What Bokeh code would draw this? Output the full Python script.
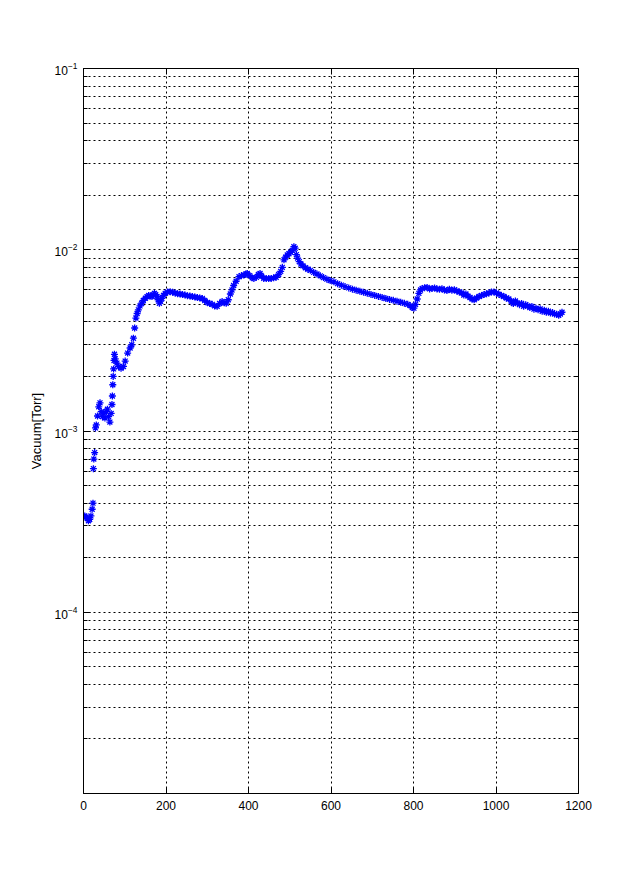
from bokeh.plotting import figure
from bokeh.models import (Range1d, FixedTicker, LogAxis, LinearAxis,
                          CustomJSTickFormatter, ColumnDataSource)
from bokeh.embed import file_html
from bokeh.resources import INLINE

# ---- data ----
time = [3, 6, 9, 12, 15, 18, 21, 23, 24, 25, 27, 29, 31, 34, 37, 40, 43, 46, 49, 52,
        55, 58, 61, 64, 67, 69, 70, 71, 72, 73, 74, 75, 77, 81, 85, 91, 97, 101, 107, 113,
        117, 121, 124, 127, 130, 133, 137, 141, 145, 150, 154, 158, 162, 166, 169, 172, 175, 178, 181, 184,
        187, 190, 194, 198, 204, 210, 216, 222, 228, 234, 240, 246, 252, 258, 264, 270, 276, 282, 288, 294,
        300, 306, 312, 318, 324, 330, 336, 341, 346, 351, 356, 360, 364, 370, 377, 383, 389, 394, 397, 403,
        409, 413, 419, 424, 428, 432, 437, 443, 449, 455, 461, 467, 473, 478, 482, 486, 490, 494, 498, 502,
        506, 510, 513, 516, 519, 523, 527, 532, 538, 544, 550, 558, 566, 574, 582, 590, 598, 607, 616, 625,
        634, 643, 652, 661, 670, 679, 688, 697, 706, 715, 724, 733, 742, 751, 760, 769, 778, 786, 792, 797,
        801, 805, 809, 813, 817, 821, 827, 833, 839, 845, 851, 857, 863, 869, 875, 881, 887, 893, 899, 905,
        911, 917, 922, 927, 932, 937, 942, 947, 953, 959, 965, 971, 977, 983, 989, 995, 1001, 1007, 1013, 1019,
        1025, 1031, 1037, 1042, 1047, 1052, 1057, 1062, 1067, 1072, 1077, 1082, 1087, 1092, 1097, 1102, 1107, 1112, 1117, 1122,
        1127, 1132, 1137, 1142, 1147, 1152, 1156, 1160]

vacuum = [3.4e-4, 3.35e-4, 3.3e-4, 3.2e-4, 3.25e-4, 3.4e-4, 3.7e-4, 4.0e-4, 6.2e-4, 7.0e-4,
          7.6e-4, 1.04e-3, 1.08e-3, 1.21e-3, 1.36e-3, 1.43e-3, 1.28e-3, 1.2e-3, 1.25e-3, 1.18e-3,
          1.28e-3, 1.32e-3, 1.2e-3, 1.12e-3, 1.25e-3, 1.4e-3, 1.56e-3, 1.8e-3, 2.0e-3, 2.2e-3,
          2.45e-3, 2.65e-3, 2.5e-3, 2.37e-3, 2.27e-3, 2.22e-3, 2.27e-3, 2.43e-3, 2.69e-3, 2.87e-3,
          2.99e-3, 3.25e-3, 3.7e-3, 4.2e-3, 4.45e-3, 4.66e-3, 4.9e-3, 5.07e-3, 5.25e-3, 5.4e-3,
          5.5e-3, 5.6e-3, 5.55e-3, 5.52e-3, 5.65e-3, 5.75e-3, 5.65e-3, 5.52e-3, 5.3e-3, 5.07e-3,
          5.2e-3, 5.4e-3, 5.6e-3, 5.75e-3, 5.85e-3, 5.87e-3, 5.82e-3, 5.77e-3, 5.72e-3, 5.7e-3,
          5.66e-3, 5.62e-3, 5.58e-3, 5.55e-3, 5.52e-3, 5.48e-3, 5.45e-3, 5.42e-3, 5.38e-3, 5.25e-3,
          5.12e-3, 5.05e-3, 5.0e-3, 4.9e-3, 4.88e-3, 5.05e-3, 5.18e-3, 5.1e-3, 5.07e-3, 5.3e-3,
          5.7e-3, 6.0e-3, 6.35e-3, 6.7e-3, 7.1e-3, 7.2e-3, 7.26e-3, 7.35e-3, 7.4e-3, 7.2e-3,
          7.0e-3, 6.95e-3, 7.05e-3, 7.3e-3, 7.4e-3, 7.15e-3, 6.95e-3, 6.95e-3, 6.93e-3, 6.95e-3,
          7.0e-3, 7.05e-3, 7.3e-3, 7.6e-3, 8.0e-3, 8.8e-3, 9.1e-3, 9.35e-3, 9.5e-3, 9.7e-3,
          9.9e-3, 1.04e-2, 1.02e-2, 9.4e-3, 9.0e-3, 8.6e-3, 8.35e-3, 8.15e-3, 7.95e-3, 7.8e-3,
          7.7e-3, 7.5e-3, 7.35e-3, 7.18e-3, 7.02e-3, 6.88e-3, 6.76e-3, 6.65e-3, 6.5e-3, 6.38e-3,
          6.26e-3, 6.16e-3, 6.06e-3, 5.98e-3, 5.9e-3, 5.82e-3, 5.75e-3, 5.67e-3, 5.6e-3, 5.53e-3,
          5.46e-3, 5.38e-3, 5.32e-3, 5.26e-3, 5.2e-3, 5.13e-3, 5.06e-3, 5.0e-3, 4.92e-3, 4.8e-3,
          4.76e-3, 5.0e-3, 5.35e-3, 5.75e-3, 6.0e-3, 6.12e-3, 6.18e-3, 6.2e-3, 6.08e-3, 6.12e-3,
          6.15e-3, 6.08e-3, 6.05e-3, 6.1e-3, 6.0e-3, 5.96e-3, 6.05e-3, 5.98e-3, 6.02e-3, 5.92e-3,
          5.85e-3, 5.78e-3, 5.62e-3, 5.7e-3, 5.55e-3, 5.45e-3, 5.35e-3, 5.3e-3, 5.42e-3, 5.52e-3,
          5.6e-3, 5.66e-3, 5.72e-3, 5.78e-3, 5.84e-3, 5.85e-3, 5.78e-3, 5.68e-3, 5.6e-3, 5.52e-3,
          5.42e-3, 5.35e-3, 5.2e-3, 5.05e-3, 5.22e-3, 5.08e-3, 4.98e-3, 5.05e-3, 4.88e-3, 4.98e-3,
          4.9e-3, 4.8e-3, 4.86e-3, 4.7e-3, 4.76e-3, 4.66e-3, 4.72e-3, 4.58e-3, 4.64e-3, 4.52e-3,
          4.58e-3, 4.48e-3, 4.5e-3, 4.42e-3, 4.4e-3, 4.35e-3, 4.42e-3, 4.52e-3]

x_ticks = [0, 200, 400, 600, 800, 1000, 1200]
y_major_ticks = [1e-4, 1e-3, 1e-2, 1e-1]
y_minor_ticks = [m * 10.0 ** e for e in (-5, -4, -3, -2) for m in range(2, 10)]
y_axis_label = "Vacuum[Torr]"

FONT = "Liberation Sans"
DASH = "2 3"

p = figure(width=640, height=892, y_axis_type="log",
           x_range=Range1d(0, 1200), y_range=Range1d(1e-5, 1e-1),
           output_backend="svg", toolbar_location=None,
           min_border_left=83, min_border_right=62,
           min_border_top=68, min_border_bottom=99)

p.background_fill_color = "white"
p.border_fill_color = "white"
p.outline_line_color = "black"
p.outline_line_width = 1

src = ColumnDataSource(dict(t=time, v=vacuum))
p.scatter("t", "v", source=src, marker="asterisk", size=7,
          line_color="#0000ff", line_width=1.3)

# bottom axis
xa = p.xaxis[0]
xa.ticker = FixedTicker(ticks=x_ticks)
xa.major_tick_in = 6
xa.major_tick_out = 0
xa.minor_tick_line_color = None
xa.axis_line_color = "black"
xa.major_label_text_font = FONT
xa.major_label_text_font_size = "12px"
xa.major_label_text_color = "black"
xa.major_label_standoff = 7

# left axis
ya = p.yaxis[0]
ya.ticker = FixedTicker(ticks=y_major_ticks, minor_ticks=y_minor_ticks)
ya.major_tick_in = 7
ya.major_tick_out = 0
ya.minor_tick_in = 4
ya.minor_tick_out = 0
ya.axis_line_color = "black"
ya.major_label_text_font = FONT
ya.major_label_text_font_size = "12px"
ya.major_label_text_color = "black"
ya.major_label_standoff = 6
ya.axis_label = y_axis_label
ya.axis_label_text_font = FONT
ya.axis_label_text_font_size = "13px"
ya.axis_label_text_font_style = "normal"
ya.axis_label_text_color = "black"
ya.axis_label_standoff = 8

blank = CustomJSTickFormatter(code="return ''")

# top axis (ticks only)
ta = LinearAxis(ticker=FixedTicker(ticks=x_ticks), formatter=blank)
ta.major_tick_in = 6
ta.major_tick_out = 0
ta.minor_tick_line_color = None
ta.major_label_text_font_size = "1px"
p.add_layout(ta, "above")

# right axis (ticks only)
ra = LogAxis(ticker=FixedTicker(ticks=y_major_ticks, minor_ticks=y_minor_ticks), formatter=blank)
ra.major_tick_in = 7
ra.major_tick_out = 0
ra.minor_tick_in = 4
ra.minor_tick_out = 0
ra.major_label_text_font_size = "1px"
p.add_layout(ra, "right")

# grids (MATLAB-style dotted)
p.xgrid.ticker = FixedTicker(ticks=x_ticks)
p.xgrid.grid_line_color = "black"
p.xgrid.grid_line_dash = DASH
p.xgrid.grid_line_width = 1

p.ygrid.ticker = FixedTicker(ticks=y_major_ticks, minor_ticks=y_minor_ticks)
p.ygrid.grid_line_color = "black"
p.ygrid.grid_line_dash = DASH
p.ygrid.grid_line_width = 1
p.ygrid.minor_grid_line_color = "black"
p.ygrid.minor_grid_line_dash = DASH
p.ygrid.minor_grid_line_width = 1

open("out.html", "w").write(file_html(p, INLINE))
